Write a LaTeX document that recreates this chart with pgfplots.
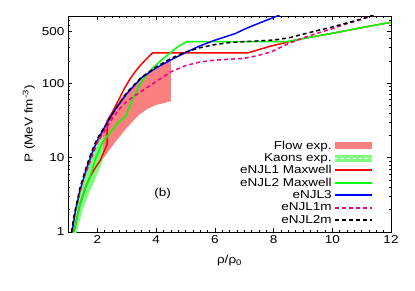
\documentclass[border=0pt]{standalone}
\usepackage{fontspec}
\setmainfont{Liberation Sans}[FakeStretch=1.18]
\usepackage{pgfplots}
\pgfplotsset{compat=1.18}
\definecolor{flowc}{RGB}{250,128,128}
\definecolor{kaonc}{RGB}{128,250,128}
\begin{document}
\begin{tikzpicture}
\begin{axis}[name=ax, scale only axis, width=323bp, height=216bp,
  xmin=1, xmax=12, ymin=1, ymax=800, ymode=log,
  xtick={2,4,...,12}, minor x tick num=7,
  ytick={1,10,100,500}, yticklabels={1,10,100,500},
  minor ytick={2,3,4,5,6,7,8,9,20,30,40,50,60,70,80,90,200,300,400,600,700,800},
  tick align=inside, major tick length=4bp, minor tick length=2bp,
  tick style={black, line width=0.5pt},
  axis line style={line width=0.8pt},
  font=\fontsize{11.5}{13}\selectfont,
  /pgf/number format/assume math mode=true,
  xlabel={ρ/ρ\textsubscript{0}}, ylabel={P (MeV fm\textsuperscript{-3})},
  xlabel style={yshift=-5bp},
  legend cell align=right, legend plot pos=right,
  legend image post style={xscale=2.2, line width=2.2bp},
  legend style={at={(0.955,0.015)}, anchor=south east, draw=none, fill=none,
    font=\fontsize{11.5}{13}\selectfont, row sep=-1.2bp},
]
\addplot[fill=flowc, draw=none,
  legend image code/.code={\fill[flowc] (0bp,-3.5bp) rectangle (17bp,3.5bp);}]
  coordinates {(2.0,7.5)(2.3,11)(2.6,16)(3.0,25)(3.4,37)(3.7,45)(4.0,51)(4.5,57)
  (4.5,200)(4.0,155)(3.6,122)(3.3,98)(3.0,76)(2.8,62)(2.6,46)(2.3,28)(2.0,17)} -- cycle;
\addlegendentry{Flow exp.}
\addplot[fill=kaonc, draw=none,
  legend image code/.code={\fill[kaonc] (0bp,-3.5bp) rectangle (17bp,3.5bp);
    \draw[white, dash pattern=on 3bp off 3bp, line width=0.6pt] (0bp,0bp) -- (17bp,0bp);}]
  coordinates {(1.27,0.9)(1.3,1)(1.5,2)(1.7,3.2)(1.9,4.8)(2.1,7.5)(2.2,9.5)
  (2.2,20)(2.0,15)(1.8,10.5)(1.6,6.3)(1.4,3.4)(1.2,1.2)(1.13,0.9)} -- cycle;
\addlegendentry{Kaons exp.}
\addplot[red, line width=1.5bp]
  coordinates {(1.2,1)(1.4,2.3)(1.6,4.0)(1.75,5.5)(1.9,7)(2.1,9.2)(2.33,15)(2.33,31)(2.5,40)(2.7,57)(2.9,82)(3.1,112)(3.3,145)(3.5,180)(3.7,218)(3.88,255)(7.12,255)(7.5,283)(7.86,312)(8.54,362)(9,398)(10,468)(11,558)(12,658)};
\addlegendentry{eNJL1 Maxwell}
\addplot[green, line width=1.5bp]
  coordinates {(1.2,1)(1.4,2.3)(1.6,4.0)(1.75,5.5)(1.95,10)(2.17,16)(2.35,19.5)(2.68,29)(2.97,36)(3.19,60)(3.4,88)(3.6,118)(3.85,155)(4.1,192)(4.4,240)(4.62,285)(4.8,320)(5.05,362)(8.45,362)(9,398)(10,468)(11,558)(12,658)};
\addlegendentry{eNJL2 Maxwell}
\addplot[blue, line width=1.5bp]
  coordinates {(1.14,1)(1.25,1.9)(1.4,3.5)(1.6,6.5)(1.8,11)(2.0,17)(2.3,28)(2.6,44)(3.0,72)(3.5,118)(4.0,160)(4.5,205)(5.0,258)(5.5,318)(6.0,378)(6.7,465)(7.0,530)(7.5,640)(8.13,800)(8.2,820)};
\addlegendentry{eNJL3}
\addplot[magenta, line width=1.5bp, dash pattern=on 4bp off 3bp]
  coordinates {(1.13,1)(1.25,1.9)(1.5,4.8)(2.0,16)(2.5,33)(2.75,45)(3.0,57)(3.5,78)(4.0,105)(4.5,142)(5.0,172)(5.5,193)(6.0,204)(6.5,210)(7.0,216)(7.4,232)(7.9,262)(8.5,340)(9.0,405)(9.5,470)(10,540)(10.5,630)(11,720)(11.4,820)};
\addlegendentry{eNJL1m}
\addplot[black, line width=1.5bp, dash pattern=on 4bp off 3bp]
  coordinates {(1.12,1)(1.2,1.6)(1.4,3.8)(1.6,7)(1.8,12)(2.0,18)(2.5,38)(3.0,75)(3.5,120)(4.0,165)(4.5,215)(5.0,262)(5.5,300)(6.0,330)(6.5,352)(7.0,362)(7.5,370)(8.0,380)(8.5,405)(9.0,455)(9.5,510)(10,570)(10.5,645)(11,730)(11.4,820)};
\addlegendentry{eNJL2m}
\node at (axis cs:4.22,3.33) {(b)};
\end{axis}
\path (ax.south west) ++(-68bp,-59bp) coordinate (bbA);
\path (ax.north east) ++(24bp,16bp) coordinate (bbB);
\path (bbA) rectangle (bbB);
\end{tikzpicture}
\end{document}
